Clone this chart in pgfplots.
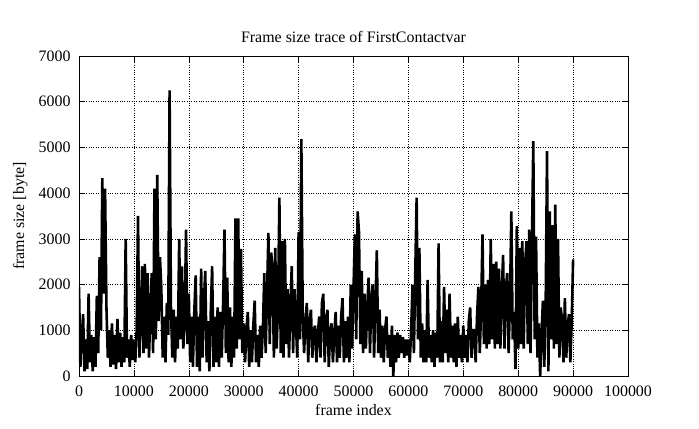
\documentclass[border=0pt]{standalone}
\usepackage{fontspec}
\setmainfont{Liberation Serif}
\usepackage{pgfplots}
\pgfplotsset{compat=1.18}
\begin{document}
\fontsize{16}{18}\selectfont
\begin{tikzpicture}[x=1bp,y=1bp]
\begin{axis}[
  scale only axis,
  width=549bp, height=320bp,
  xmin=0, xmax=100000, ymin=0, ymax=7000,
  xtick={0,10000,20000,30000,40000,50000,60000,70000,80000,90000,100000},
  xticklabels={0,10000,20000,30000,40000,50000,60000,70000,80000,90000,100000},
  ytick={0,1000,2000,3000,4000,5000,6000,7000},
  yticklabels={0,1000,2000,3000,4000,5000,6000,7000},
  scaled ticks=false,
  tick align=inside,
  major tick length=6bp,
  tick style={black, line width=0.5pt},
  axis line style={black, line width=0.6pt},
  grid=major,
  grid style={black, dotted, line width=0.5pt},
  every axis title/.style={at={(axis description cs:0.5,1.059)}, anchor=center, font=\fontsize{16}{18}\selectfont},
  title={Frame size trace of FirstContactvar},
  every axis x label/.style={at={(axis description cs:0.5,-0.106)}, anchor=center, font=\fontsize{16}{18}\selectfont},
  xlabel={frame index},
  every axis y label/.style={at={(axis description cs:-0.107,0.5)}, anchor=center, rotate=90, font=\fontsize{16}{18}\selectfont},
  ylabel={frame size [byte]},
  tick label style={font=\fontsize{16}{18}\selectfont},
  xticklabel style={anchor=center, yshift=-15bp},
  yticklabel style={anchor=east, xshift=-3bp},
]
\addplot[black, line width=2.6pt, line join=miter, miter limit=1.5] table {
x y
0 1950
250 200
500 850
750 1350
1000 100
1250 800
1500 150
1750 1800
2000 300
2250 900
2500 100
2750 850
3000 200
3250 1750
3500 500
3750 2600
4000 1000
4250 4330
4500 1800
4750 4100
5000 1500
5250 400
5500 1000
5750 200
6000 1150
6250 250
6500 900
6750 150
7000 1250
7250 300
7500 950
7750 200
8000 850
8250 300
8500 3000
8750 400
9000 800
9250 200
9500 900
9750 350
10000 800
10250 300
10500 1000
10750 3500
11000 400
11250 1200
11500 2400
11750 500
12000 2450
12250 600
12500 2250
12750 400
13000 1400
13250 2250
13500 500
13750 4100
14000 800
14250 4400
14500 1200
14750 2600
15000 1900
15250 400
15500 1300
15750 300
16000 1600
16250 900
16500 6250
16750 1500
17000 400
17250 1450
17500 300
17750 1300
18000 600
18250 3000
18500 800
18750 2400
19000 600
19250 1200
19500 3200
19750 700
20000 1800
20250 300
20500 1300
20750 200
21000 1400
21250 2200
21500 200
21750 1300
22000 100
22250 2350
22500 400
22750 1600
23000 2300
23250 300
23500 1200
23750 100
24000 1400
24250 2400
24500 200
24750 1300
25000 300
25250 1500
25500 200
25750 1400
26000 400
26250 1600
26500 3200
26750 500
27000 2150
27250 300
27500 1500
27750 200
28000 1300
28250 400
28500 3450
28750 600
29000 3450
29250 800
29500 2780
29750 500
30000 1150
30250 300
30500 1000
30750 1400
31000 200
31250 1000
31500 300
31750 1100
32000 1650
32250 300
32500 900
32750 200
33000 1100
33250 400
33500 1050
33750 2250
34000 500
34250 1800
34500 3130
34750 700
35000 2700
35250 2400
35500 400
35750 2800
36000 600
36250 1500
36500 3900
36750 500
37000 2950
37250 400
37500 3000
37750 700
38000 1900
38250 400
38500 1500
38750 2400
39000 500
39250 1900
39500 1200
39750 400
40000 3150
40250 800
40500 5180
40750 1350
41000 500
41250 1200
41500 1600
41750 300
42000 1200
42250 1450
42500 400
42750 1000
43000 1100
43250 300
43500 900
43750 1300
44000 400
44250 1600
44500 1800
44750 300
45000 1200
45250 1450
45500 200
45750 1000
46000 1150
46250 300
46500 900
46750 1400
47000 300
47250 1100
47500 400
47750 1300
48000 1700
48250 300
48500 1200
48750 400
49000 1300
49250 300
49500 2000
49750 600
50000 1900
50250 3100
50500 800
50750 3600
51000 3150
51250 700
51500 2300
51750 500
52000 1800
52250 600
52500 1500
52750 2150
53000 500
53250 1700
53500 2000
53750 400
54000 1600
54250 2750
54500 500
54750 1450
55000 400
55250 1100
55500 300
55750 1000
56000 1300
56250 400
56500 900
56750 200
57000 1100
57250 0
57500 900
57750 300
58000 950
58250 400
58500 900
58750 500
59000 850
59250 400
59500 800
59750 450
60000 800
60250 300
60500 1000
60750 2000
61000 500
61250 2250
61500 3900
61750 800
62000 2800
62250 400
62500 1150
62750 300
63000 1000
63250 300
63500 2100
63750 400
64000 900
64250 300
64500 1000
64750 200
65000 950
65250 400
65500 2900
65750 300
66000 1200
66250 300
66500 1950
66750 500
67000 1450
67250 300
67500 1800
67750 400
68000 1100
68250 300
68500 1150
68750 200
69000 1300
69250 400
69500 900
69750 300
70000 1100
70250 400
70500 900
70750 300
71000 1200
71250 1500
71500 400
71750 1000
72000 1000
72250 300
72500 1300
72750 1950
73000 500
73250 1500
73500 3100
73750 700
74000 2000
74250 600
74500 2100
74750 700
75000 3000
75250 800
75500 2450
75750 600
76000 2500
76250 700
76500 2350
76750 600
77000 1800
77250 2650
77500 600
77750 1900
78000 2250
78250 500
78500 1600
78750 3600
79000 800
79250 1400
79500 150
79750 3280
80000 600
80250 2800
80500 700
80750 2950
81000 600
81250 2400
81500 2950
81750 700
82000 3200
82250 500
82500 2900
82750 5140
83000 800
83250 3050
83500 400
83750 1150
84000 0
84250 900
84500 1650
84750 200
85000 1500
85250 4920
85500 100
85750 3600
86000 800
86250 3300
86500 600
86750 3750
87000 700
87250 3000
87500 400
87750 1500
88000 1200
88250 300
88500 1700
88750 400
89000 1100
89250 1350
89500 300
89750 1200
90000 2550
};
\end{axis}
\path[use as bounding box] ([shift={(-79bp,-53bp)}]current axis.south west) rectangle ([shift={(71bp,56bp)}]current axis.north east);
\end{tikzpicture}
\end{document}
